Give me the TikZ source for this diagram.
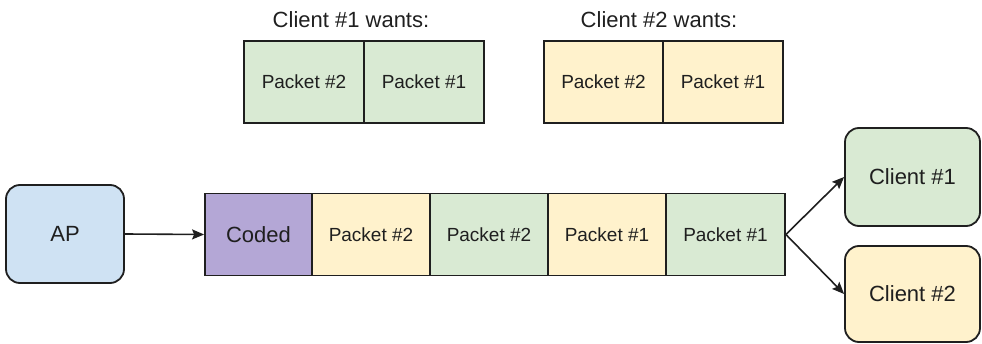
\documentclass[tikz,border=0pt]{standalone}
\usepackage{fontspec}
\setmainfont{Liberation Sans}
\usetikzlibrary{arrows.meta}
\definecolor{pktgreen}{HTML}{D9EAD3}
\definecolor{pktyellow}{HTML}{FFF2CC}
\definecolor{apblue}{HTML}{CFE2F3}
\definecolor{codedpurple}{HTML}{B4A7D6}
\definecolor{inkgray}{HTML}{1F1F1F}
\begin{document}
\begin{tikzpicture}[x=1pt,y=-1pt,
  cell/.style={draw=inkgray, line width=1.8pt, inner sep=0pt, minimum height=82pt,
    text=inkgray, font=\fontsize{19}{21}\selectfont},
  station/.style={draw=inkgray, line width=1.8pt, rounded corners=14pt, inner sep=0pt,
    text=inkgray, font=\fontsize{22}{25}\selectfont},
  caption/.style={text=inkgray, inner sep=0pt, font=\fontsize{22}{25}\selectfont},
  link/.style={draw=inkgray, line width=1.6pt, -{Stealth[length=12pt,width=10pt,inset=2pt]}}]
\path[use as bounding box] (0,0) rectangle (982,344);

% wanted packets, client 1
\node[caption] (want1) at (351,20) {Client \#1 wants:};
\node[cell, fill=pktgreen, minimum width=120pt] (w1b) at (304,82) {Packet \#2};
\node[cell, fill=pktgreen, minimum width=120pt] (w1a) at (424,82) {Packet \#1};

% wanted packets, client 2
\node[caption] (want2) at (659,20) {Client \#2 wants:};
\node[cell, fill=pktyellow, minimum width=119pt] (w2b) at (603.5,82) {Packet \#2};
\node[cell, fill=pktyellow, minimum width=120pt] (w2a) at (723,82) {Packet \#1};

% access point
\node[station, fill=apblue, minimum width=118pt, minimum height=98pt] (ap) at (65,234) {AP};

% transmitted stream
\node[cell, fill=codedpurple, minimum width=107pt, font=\fontsize{22}{25}\selectfont] (coded) at (258.5,234.5) {Coded};
\node[cell, fill=pktyellow, minimum width=118pt] (s1) at (371,234.5) {Packet \#2};
\node[cell, fill=pktgreen, minimum width=118pt] (s2) at (489,234.5) {Packet \#2};
\node[cell, fill=pktyellow, minimum width=118pt] (s3) at (607,234.5) {Packet \#1};
\node[cell, fill=pktgreen, minimum width=119pt] (s4) at (725.5,234.5) {Packet \#1};

% receiving clients
\node[station, fill=pktgreen, minimum width=135pt, minimum height=98pt] (cl1) at (912.5,177) {Client \#1};
\node[station, fill=pktyellow, minimum width=135pt, minimum height=96pt] (cl2) at (912.5,294) {Client \#2};

% connectors
\draw[link] (ap.east) -- (coded.west);
\draw[link] (s4.east) -- (cl1.west);
\draw[link] (s4.east) -- (cl2.west);
\end{tikzpicture}
\end{document}
